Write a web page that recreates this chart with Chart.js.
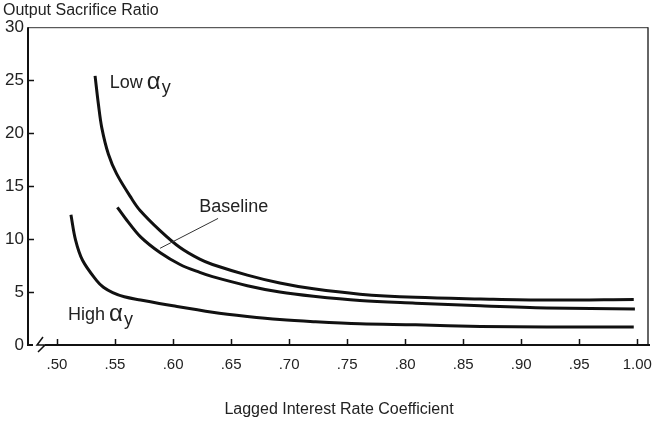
<!DOCTYPE html>
<html>
<head>
<meta charset="utf-8">
<script src="https://cdn.jsdelivr.net/npm/chart.js@4.4.0/dist/chart.umd.min.js"></script>
<style>
  html, body { margin: 0; padding: 0; background: #fff; overflow: hidden; }
</style>
</head>
<body>
<canvas id="chart" width="654" height="423"></canvas>
<script>
// values
const lowX = [0.5328, 0.5357, 0.5386, 0.5443, 0.5514, 0.5644, 0.5716, 0.5888, 0.606, 0.623, 0.634, 0.664, 0.692, 0.721, 0.761, 0.809, 0.865, 0.922, 0.997];
const lowY = [25.4, 22.7, 20.5, 18.0, 16.15, 13.8, 12.7, 10.8, 9.2, 8.1, 7.6, 6.6, 5.85, 5.3, 4.8, 4.5, 4.35, 4.25, 4.3];

const baseX = [0.552, 0.560, 0.572, 0.589, 0.606, 0.623, 0.634, 0.664, 0.692, 0.721, 0.761, 0.809, 0.865, 0.922, 0.998];
const baseY = [13.0, 11.8, 10.2, 8.7, 7.6, 6.85, 6.45, 5.6, 5.0, 4.6, 4.2, 3.95, 3.7, 3.5, 3.4];

const highX = [0.512, 0.516, 0.522, 0.534, 0.540, 0.548, 0.558, 0.572, 0.600, 0.634, 0.664, 0.692, 0.721, 0.761, 0.809, 0.865, 0.922, 0.997];
const highY = [12.3, 9.9, 8.0, 6.1, 5.45, 4.95, 4.55, 4.25, 3.7, 3.1, 2.7, 2.4, 2.2, 2.0, 1.9, 1.75, 1.7, 1.7];

const xTickValues = [0.50, 0.55, 0.60, 0.65, 0.70, 0.75, 0.80, 0.85, 0.90, 0.95, 1.00];
const xTickLabels = ['.50', '.55', '.60', '.65', '.70', '.75', '.80', '.85', '.90', '.95', '1.00'];

const toPoints = (xs, ys) => xs.map((x, i) => ({ x: x, y: ys[i] }));

const textColor = '#222';
const font = 'Arial, "Liberation Sans", Helvetica, sans-serif';

// frame, inward ticks, axis break and curve labels
const decor = {
    id: 'decor',
    afterDraw(chart) {
        const ctx = chart.ctx;
        const { left, top, right, bottom } = chart.chartArea;
        const xs = chart.scales.x, ys = chart.scales.y;
        ctx.save();
        ctx.strokeStyle = '#333';
        ctx.lineWidth = 1;
        ctx.beginPath();
        ctx.moveTo(left, top + 0.5);
        ctx.lineTo(right - 2, top + 0.5);
        ctx.stroke();
        ctx.lineWidth = 1.5;
        ctx.beginPath();
        ctx.moveTo(right - 2, top);
        ctx.lineTo(right - 2, bottom);
        ctx.stroke();
        ctx.strokeStyle = '#111';
        ctx.lineWidth = 2;
        ctx.beginPath();
        ctx.moveTo(left, top);
        ctx.lineTo(left, bottom);
        ctx.lineTo(right, bottom);
        ctx.stroke();

        ctx.lineWidth = 1.5;
        ctx.beginPath();
        xs.ticks.forEach(t => {
            const px = Math.round(xs.getPixelForValue(t.value)) + 0.5;
            ctx.moveTo(px, bottom);
            ctx.lineTo(px, bottom - 6);
        });
        ys.ticks.forEach(t => {
            if (t.value === 0 || t.value === 30) return;
            const py = Math.round(ys.getPixelForValue(t.value)) + 0.5;
            ctx.moveTo(left, py);
            ctx.lineTo(left + 6, py);
        });
        ctx.stroke();

        // axis break mark
        ctx.fillStyle = '#fff';
        ctx.fillRect(left + 5, bottom - 3, 12, 6);
        ctx.lineWidth = 1.5;
        ctx.beginPath();
        ctx.moveTo(left + 15, bottom - 8);
        ctx.lineTo(left + 9, bottom);
        ctx.lineTo(left + 17, bottom);
        ctx.lineTo(left + 10, bottom + 7);
        ctx.stroke();

        // labels
        ctx.fillStyle = textColor;
        ctx.textBaseline = 'alphabetic';
        const alphaLabel = (word, x, y) => {
            let px = xs.getPixelForValue(x), py = ys.getPixelForValue(y);
            ctx.font = '18px ' + font;
            ctx.fillText(word, px, py);
            px += ctx.measureText(word).width + 4;
            ctx.font = '24px ' + font;
            ctx.fillText('\u03b1', px, py + 1);
            px += ctx.measureText('\u03b1').width + 1;
            ctx.font = '18px ' + font;
            ctx.fillText('y', px, py + 5);
        };
        alphaLabel('Low', 0.5455, 24.3);
        alphaLabel('High', 0.5095, 2.4);

        ctx.font = '18px ' + font;
        ctx.fillText('Baseline', xs.getPixelForValue(0.6225), ys.getPixelForValue(12.6));
        ctx.strokeStyle = '#333';
        ctx.lineWidth = 1;
        ctx.beginPath();
        ctx.moveTo(xs.getPixelForValue(0.6388), ys.getPixelForValue(11.95));
        ctx.lineTo(xs.getPixelForValue(0.5888), ys.getPixelForValue(9.13));
        ctx.stroke();
        ctx.restore();
    }
};

const lineStyle = {
    showLine: true,
    fill: false,
    borderColor: '#111',
    borderWidth: 3,
    pointRadius: 0,
    tension: 0.35
};

new Chart(document.getElementById('chart').getContext('2d'), {
    type: 'scatter',
    data: {
        datasets: [
            Object.assign({ label: 'Low', data: toPoints(lowX, lowY) }, lineStyle),
            Object.assign({ label: 'Baseline', data: toPoints(baseX, baseY) }, lineStyle),
            Object.assign({ label: 'High', data: toPoints(highX, highY) }, lineStyle)
        ]
    },
    options: {
        responsive: false,
        animation: false,
        layout: { padding: { left: 3, right: 4, top: 0, bottom: 0 } },
        plugins: {
            legend: { display: false },
            tooltip: { enabled: false },
            title: {
                display: true,
                text: 'Output Sacrifice Ratio',
                align: 'start',
                color: textColor,
                font: { family: font, size: 16, weight: 'normal' },
                padding: { top: 1, bottom: 7 }
            }
        },
        scales: {
            x: {
                type: 'linear',
                min: 0.475,
                max: 1.011,
                afterBuildTicks: s => { s.ticks = xTickValues.map(v => ({ value: v })); },
                afterFit: s => { s.height = 78; s.paddingLeft = 0; s.paddingRight = 0; },
                grid: { display: false, drawTicks: false },
                border: { display: false },
                ticks: {
                    padding: 11,
                    color: textColor,
                    font: { family: font, size: 15 },
                    maxRotation: 0,
                    callback: (v, i) => xTickLabels[i]
                },
                title: {
                    display: true,
                    text: 'Lagged Interest Rate Coefficient',
                    color: textColor,
                    font: { family: font, size: 16 },
                    padding: { top: 0, bottom: 4 }
                }
            },
            y: {
                min: 0,
                max: 30,
                afterFit: s => { s.width = 25; },
                grid: { display: false, drawTicks: false },
                border: { display: false },
                ticks: {
                    stepSize: 5,
                    padding: 4,
                    color: textColor,
                    font: { family: font, size: 17 }
                }
            }
        }
    },
    plugins: [decor]
});
</script>
</body>
</html>
